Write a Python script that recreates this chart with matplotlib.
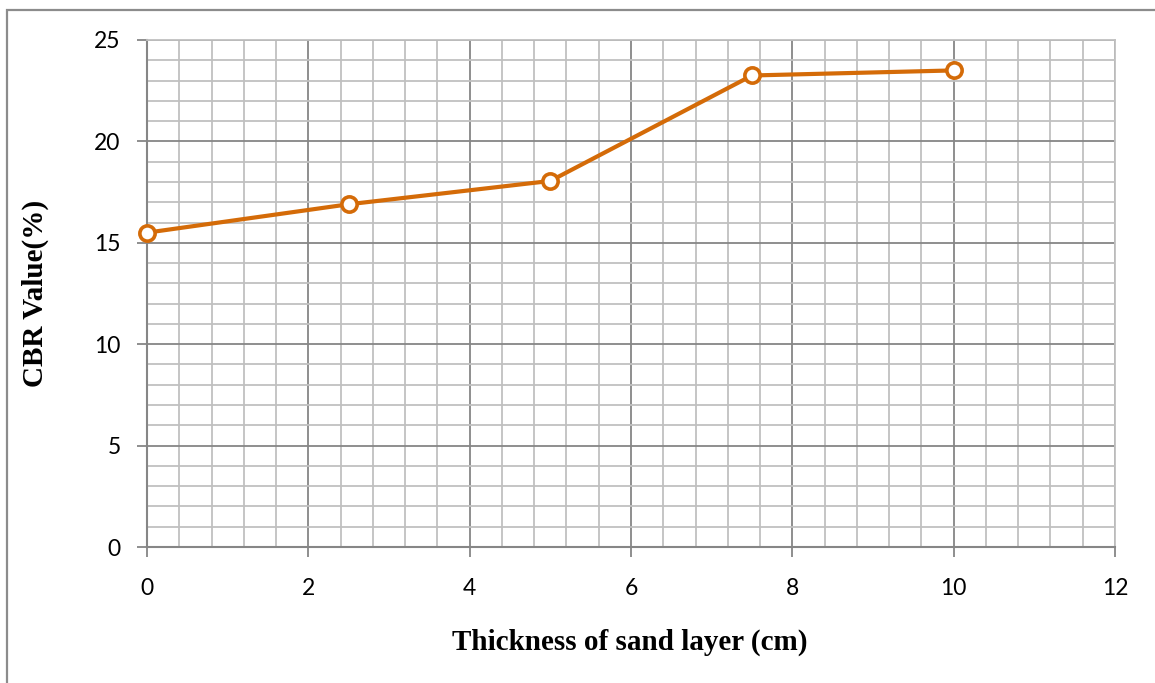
import matplotlib
matplotlib.use("Agg")
import matplotlib.pyplot as plt
from matplotlib.patches import Rectangle
from matplotlib.ticker import MultipleLocator

# Sand layer thickness (cm) and measured CBR values (%)
thickness = [0, 2.5, 5, 7.5, 10]
cbr = [15.5, 16.9, 18.05, 23.25, 23.5]

x_ticks = [0, 2, 4, 6, 8, 10, 12]
y_ticks = [0, 5, 10, 15, 20, 25]

W, H = 1155, 683
fig = plt.figure(figsize=(W / 100, H / 100), dpi=100)
fig.patch.set_facecolor("white")

# Outer chart frame (open on the right and bottom)
fig.add_artist(Rectangle((7 / W, -0.2), 1.2, 1 - 10 / H + 0.2,
                         transform=fig.transFigure, fill=False,
                         edgecolor="#8c8c8c", linewidth=1.6, zorder=0))

ax = fig.add_axes([147 / W, 1 - 547 / H, (1115 - 147) / W, (547 - 40) / H])
ax.set_xlim(0, 12)
ax.set_ylim(0, 25)

ax.xaxis.set_minor_locator(MultipleLocator(0.4))
ax.yaxis.set_minor_locator(MultipleLocator(1))
ax.set_xticks(x_ticks)
ax.set_yticks(y_ticks)

ax.grid(which="minor", color="#c0c0c0", linewidth=1.3)
ax.grid(which="major", color="#868686", linewidth=1.3)
ax.set_axisbelow(True)

for side in ("top", "right"):
    ax.spines[side].set_color("#c0c0c0")
    ax.spines[side].set_linewidth(1.3)
for side in ("left", "bottom"):
    ax.spines[side].set_color("#868686")
    ax.spines[side].set_linewidth(1.5)

ax.tick_params(which="major", length=7, width=1.3, color="#868686",
               labelsize=16.5)
ax.tick_params(axis="y", pad=12)
ax.tick_params(axis="x", pad=15)
ax.tick_params(which="minor", length=0)
for lab in ax.get_xticklabels() + ax.get_yticklabels():
    lab.set_family("Lato")

ax.plot(thickness, cbr, color="#d46b08", linewidth=3, marker="o",
        markersize=11, markerfacecolor="white", markeredgecolor="#d46b08",
        markeredgewidth=2.6, zorder=5, clip_on=False)

fig.text(630 / W, 1 - 642 / H, "Thickness of sand layer (cm)",
         family="Liberation Serif", fontweight="bold", fontsize=21,
         ha="center", va="center")
fig.text(35 / W, 1 - 293 / H, "CBR Value(%)", family="Liberation Serif",
         fontweight="bold", fontsize=21, rotation=90,
         ha="center", va="center")

fig.savefig("out.png", dpi=100)
